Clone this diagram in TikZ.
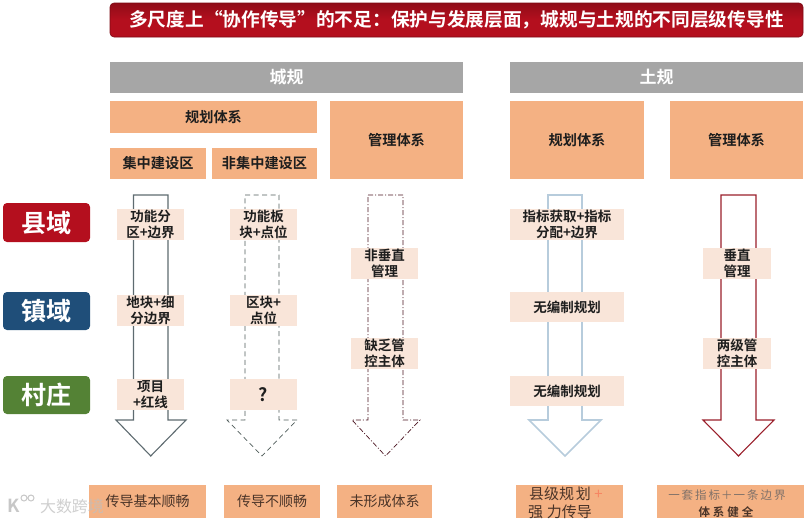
\documentclass[tikz,border=0pt]{standalone}
\usepackage{fontspec}
\setmainfont{Noto Sans CJK SC}
\newfontfamily\cjkb{Noto Sans CJK SC Bold}
\usetikzlibrary{calc}
\definecolor{tanbox}{HTML}{F4B183}
\definecolor{palebox}{HTML}{F9E5D9}
\definecolor{greyhead}{HTML}{A6A6A6}
\definecolor{titlered}{HTML}{B40F1E}
\definecolor{navy}{HTML}{1F4E79}
\definecolor{leaf}{HTML}{548235}
\definecolor{inkdark}{HTML}{1E1E1E}
\definecolor{inkbrown}{HTML}{4A3428}
\definecolor{lineslate}{HTML}{5E6B70}
\definecolor{linedash}{HTML}{4F5C5A}
\definecolor{linedot}{HTML}{4A1420}
\definecolor{lineblue}{HTML}{B7CCDC}
\definecolor{linered}{HTML}{9A1F2B}
\tikzset{
  x=1pt,y=-1pt,
  boxat/.style={inner sep=0pt,outer sep=0pt,align=center,anchor=center},
  headbar/.style={boxat,fill=greyhead,text=white,font=\cjkb\fontsize{17}{19}\selectfont},
  tanhead/.style={boxat,fill=tanbox,text=inkdark,font=\cjkb\fontsize{14.2}{16}\selectfont},
  tanfoot/.style={boxat,fill=tanbox,text=inkbrown,font=\fontsize{14}{17}\selectfont},
  paletag/.style={boxat,fill=palebox,text=inkdark,font=\cjkb\fontsize{13.5}{15.5}\selectfont},
  levelbox/.style={boxat,rounded corners=4pt,text=white,font=\cjkb\fontsize{25}{27}\selectfont},
  flowarrow/.style={line width=1.1pt,fill=white,line join=miter},
}
\newcommand{\flowshape}[5]{%
  \draw[#1] (#2,195) -- (#3,195) -- (#3,420) -- (#5,420) -- ({(#2+#3)/2},456) -- (#4,420) -- (#2,420) -- cycle;}
\newcommand{\rbox}[7]{%
  \node[#1,minimum width={#5-#3},minimum height={#6-#4}] (#2) at ({(#3+#5)/2},{(#4+#6)/2}) {#7};}
\begin{document}
\begin{tikzpicture}
\useasboundingbox (0,0) rectangle (807,522);
\node[boxat,rounded corners=4pt,top color=titlered!80!black,bottom color=titlered,middle color=titlered,draw=titlered!70!black,line width=0.6pt,text=white,
  font=\cjkb\fontsize{18.7}{20}\selectfont,minimum width=693,minimum height=34] (title) at (456.5,20) {多尺度上“协作传导”的不足：保护与发展层面，城规与土规的不同层级传导性};
\rbox{headbar}{cg}{110}{62}{463}{93}{城规}
\rbox{headbar}{tg}{510}{62}{803}{93}{土规}
\rbox{tanhead}{cgplan}{110}{101}{317}{133}{规划体系}
\rbox{tanhead}{cgmgmt}{330}{101}{463}{179}{管理体系}
\rbox{tanhead}{cgcore}{110}{148}{206}{179}{集中建设区}
\rbox{tanhead}{cgnon}{212}{148}{317}{179}{非集中建设区}
\rbox{tanhead}{tgplan}{510}{101}{644}{179}{规划体系}
\rbox{tanhead}{tgmgmt}{670}{101}{803}{179}{管理体系}
\rbox{levelbox,fill=titlered}{county}{3}{203}{90}{242}{县域}
\rbox{levelbox,fill=navy}{town}{3}{292}{90}{330}{镇域}
\rbox{levelbox,fill=leaf}{village}{3}{376}{90}{414}{村庄}
\flowshape{flowarrow,draw=lineslate}{133.5}{168}{116}{186}
\flowshape{flowarrow,draw=linedash,line width=0.7pt,dash pattern=on 5pt off 3.5pt}{245}{279}{227}{297}
\flowshape{flowarrow,draw=linedot,line width=0.7pt,dash pattern=on 5pt off 2pt on 1pt off 2pt}{368}{403}{352}{420}
\flowshape{flowarrow,draw=lineblue,line width=1.7pt}{548}{582}{529}{601}
\flowshape{flowarrow,draw=linered}{721}{756}{703}{774}
\rbox{paletag}{a1}{117}{209}{184}{240}{功能分\\区+边界}
\rbox{paletag}{a2}{117}{295}{184}{326}{地块+细\\分边界}
\rbox{paletag}{a3}{117}{379}{184}{410}{项目\\+红线}
\rbox{paletag}{b1}{230}{209}{297}{240}{功能板\\块+点位}
\rbox{paletag}{b2}{230}{295}{297}{326}{区块+\\点位}
\rbox{paletag,font=\cjkb\fontsize{18}{20}\selectfont}{b3}{230}{379}{297}{410}{?}
\rbox{paletag}{c1}{351}{248}{418}{279}{非垂直\\管理}
\rbox{paletag}{c2}{351}{338}{418}{369}{缺乏管\\控主体}
\rbox{paletag}{d1}{510}{209}{624}{240}{指标获取+指标\\分配+边界}
\rbox{paletag}{d2}{510}{292}{624}{322}{无编制规划}
\rbox{paletag}{d3}{510}{376}{624}{406}{无编制规划}
\rbox{paletag}{e1}{703}{248}{771}{279}{垂直\\管理}
\rbox{paletag}{e2}{703}{338}{771}{369}{两级管\\控主体}
\rbox{tanfoot}{fa}{89}{485}{206}{518}{传导基本顺畅}
\rbox{tanfoot}{fb}{224}{485}{320}{518}{传导不顺畅}
\rbox{tanfoot}{fc}{337}{485}{432}{518}{未形成体系}
\rbox{tanfoot}{fd}{516}{485}{623}{518}{}
\node[boxat,text=inkbrown,font=\fontsize{15}{17}\selectfont,anchor=west] (fdl) at (529,494) {县级规\hspace{2pt}划 \textcolor{tanbox!75!red}{+}};
\node[boxat,text=inkbrown,font=\fontsize{15}{17}\selectfont,anchor=west] (fdm) at (528,512) {强\hspace{4pt}力传导};
\rbox{tanfoot}{fe}{657}{485}{804}{518}{}
\node[boxat,text=inkbrown!70,font=\fontsize{11.5}{14}\selectfont] (fel) at (727,495) {一\hspace{2pt}套\hspace{2pt}指\hspace{2pt}标\hspace{1pt}＋\hspace{1pt}一\hspace{2pt}条\hspace{2pt}边\hspace{2pt}界};
\node[boxat,text=inkbrown,font=\cjkb\fontsize{11.5}{14}\selectfont] (fem) at (726,512) {体\hspace{3pt}系\hspace{3pt}健\hspace{3pt}全};
\node[boxat,text=black!25,opacity=.75,font=\fontsize{16}{17}\selectfont,anchor=west] (wm) at (40,506) {大数跨境};
\node[boxat,text=black!22,font=\cjkb\fontsize{18}{18}\selectfont,anchor=west] (wmk) at (8,506) {K};
\draw[black!22,line width=1pt] (24,498) circle (3) (31,498) circle (3);
\end{tikzpicture}
\end{document}
